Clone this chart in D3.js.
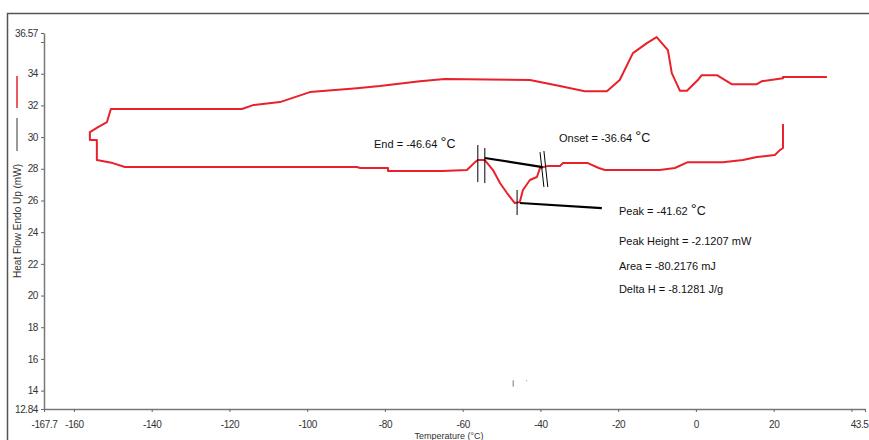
<!DOCTYPE html>
<html><head><meta charset="utf-8">
<script src="https://cdn.jsdelivr.net/npm/d3@7"></script>
<style>body{margin:0;background:#fff;} svg{display:block;font-family:"Liberation Sans",Arial,sans-serif;}</style>
</head><body><svg id="c" width="869" height="440"></svg>
<script>
// DSC run: temperature (°C) and heat flow (mW), in time order (cooling then heating)
const temps = [22.4,22.4,21.6,20.3,15.7,12.1,6.9,-2.1,-5.4,-9.3,-23.4,-25.0,-27.8,-34.2,-35.0,-38.3,-40.1,-40.9,-42.7,-44.5,-45.3,-46.6,-48.6,-50.4,-52.2,-54.3,-56.1,-56.8,-58.9,-65.3,-79.2,-79.2,-86.4,-87.2,-146.9,-150.0,-154.1,-154.1,-155.9,-155.9,-153.8,-151.5,-150.5,-116.8,-113.9,-107.0,-99.3,-87.2,-81.3,-71.0,-64.6,-42.7,-35.0,-28.6,-22.9,-19.6,-16.2,-12.6,-10.1,-7.2,-6.2,-4.1,-2.3,0.5,1.5,5.4,9.2,15.7,17.0,22.4,22.4,33.7];
const heatFlow = [30.82,29.31,29.18,28.87,28.74,28.55,28.42,28.42,28.05,27.92,27.92,28.05,28.36,28.36,28.17,28.17,28.05,27.48,27.29,26.66,25.90,25.84,26.47,27.10,27.92,28.55,28.55,28.42,27.92,27.86,27.86,28.05,28.05,28.11,28.11,28.36,28.55,29.81,29.81,30.32,30.63,30.95,31.77,31.77,32.02,32.21,32.84,33.09,33.22,33.53,33.66,33.60,33.22,32.90,32.90,33.60,35.30,35.93,36.31,35.49,34.04,32.92,32.92,33.60,33.91,33.91,33.34,33.34,33.53,33.72,33.79,33.79];

const xTicks = [-167.7,-160,-140,-120,-100,-80,-60,-40,-20,0,20,40,43.5];
const xTickLabels = ["-167.7","-160","-140","-120","-100","-80","-60","-40","-20","0","20","","43.5"];
const yTicks = [12.84,14,16,18,20,22,24,26,28,30,32,34,36,36.57];
const yTickLabels = ["12.84","14","16","18","20","22","24","26","28","30","32","34","","36.57"];

// analysis annotations (data coordinates)
const baselineEnd = [[-54.3,28.68],[-39.4,28.11]];
const baselinePeak = [[-45.3,25.84],[-24.2,25.52]];
const markTicks = [
  [[-56.1,29.50],[-56.1,27.16]],
  [[-54.3,29.31],[-54.3,27.10]],
  [[-40.1,29.05],[-39.1,26.85]],
  [[-39.1,29.12],[-38.1,26.85]],
  [[-46.0,26.66],[-46.0,25.08]]
];
const annotations = [
  {t:-82.8, h:29.31, label:"End = -46.64 ", unit:true},
  {t:-35.2, h:29.69, label:"Onset = -36.64 ", unit:true},
  {t:-19.8, h:25.08, label:"Peak = -41.62 ", unit:true},
  {t:-19.8, h:23.19, label:"Peak Height = -2.1207 mW", unit:false},
  {t:-19.8, h:21.61, label:"Area = -80.2176 mJ", unit:false},
  {t:-19.8, h:20.16, label:"Delta H = -8.1281 J/g", unit:false}
];

const svg = d3.select("#c");
const x = d3.scaleLinear().domain([-167.7,43.5]).range([44,865]);
const y = d3.scaleLinear().domain([12.84,36.57]).range([409,33]);

// frame
svg.append("path").attr("d","M7.5,440 V13.5 H869").attr("fill","none").attr("stroke","#555").attr("stroke-width",1.5);

// axes
const xa = svg.append("g").attr("transform","translate(0,409)")
  .call(d3.axisBottom(x).tickValues(xTicks).tickFormat((d,i)=>xTickLabels[i]).tickSize(3).tickSizeOuter(0));
const ya = svg.append("g").attr("transform","translate(44,0)")
  .call(d3.axisLeft(y).tickValues(yTicks).tickFormat((d,i)=>yTickLabels[i]).tickSize(3).tickSizeOuter(0));
[xa,ya].forEach(g=>{
  g.select(".domain").attr("stroke","#777").attr("stroke-width",1.5);
  g.selectAll(".tick line").attr("stroke","#666");
  g.selectAll(".tick text").attr("fill","#333").style("font-size","10px").style("font-family","'Liberation Sans',Arial,sans-serif").attr("letter-spacing","-0.4");
});
xa.selectAll(".tick text").attr("dy","1.3em");
// keep the last label inside the window
xa.selectAll(".tick text").filter(d=>d===43.5).attr("text-anchor","end").attr("x",3);
ya.selectAll(".tick text").attr("x",-6);

// axis titles
svg.append("text").attr("transform","translate(21,221) rotate(-90)").attr("text-anchor","middle")
  .attr("fill","#333").style("font-size","10px").text("Heat Flow Endo Up (mW)");
svg.append("text").attr("x",449).attr("y",438.5).attr("text-anchor","middle")
  .attr("fill","#333").style("font-size","9px").text("Temperature (°C)");

// legend marks
svg.append("line").attr("x1",17).attr("x2",17).attr("y1",76).attr("y2",108).attr("stroke","#e8212a").attr("stroke-width",1.5);
svg.append("line").attr("x1",17).attr("x2",17).attr("y1",118).attr("y2",151).attr("stroke","#777").attr("stroke-width",1.5);

// curve
const pts = temps.map((t,i)=>[t,heatFlow[i]]);
const line = d3.line().x(d=>x(d[0])).y(d=>y(d[1]));
svg.append("path").attr("d",line(pts)).attr("fill","none").attr("stroke","#e8212a").attr("stroke-width",2).attr("stroke-linejoin","round");

// baselines and markers
[baselineEnd,baselinePeak].forEach(b=>svg.append("path").attr("d",line(b)).attr("stroke","#000").attr("stroke-width",2.2).attr("fill","none"));
markTicks.forEach(m=>svg.append("path").attr("d",line(m)).attr("stroke","#000").attr("stroke-width",1).attr("fill","none"));

// stray marks near axis
svg.append("line").attr("x1",x(-47.0)).attr("x2",x(-47.0)).attr("y1",y(14.65)).attr("y2",y(14.25)).attr("stroke","#777").attr("stroke-width",1);
svg.append("rect").attr("x",x(-43.7)).attr("y",y(14.65)).attr("width",1).attr("height",1).attr("fill","#999");

// annotation texts
annotations.forEach(a=>{
  const t = svg.append("text").attr("x",x(a.t)).attr("y",y(a.h)).attr("fill","#111").style("font-size","11px");
  t.append("tspan").text(a.label);
  if(a.unit){
    t.append("tspan").style("font-size","15px").attr("dy",-1).text("°");
    t.append("tspan").style("font-size","12.5px").attr("dy",1).text("C");
  }
});
</script></body></html>
